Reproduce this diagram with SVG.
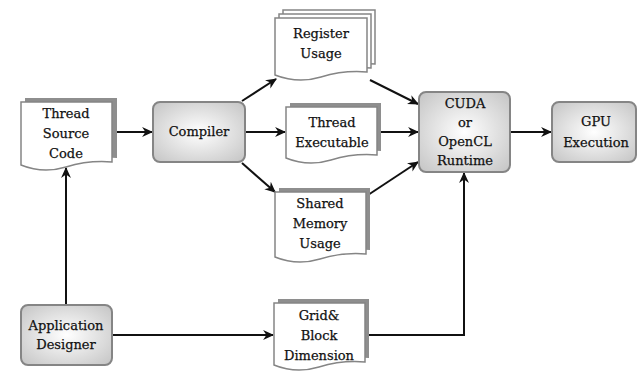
<svg xmlns="http://www.w3.org/2000/svg" width="637" height="371" viewBox="0 0 637 371">
  <defs>
    <radialGradient id="boxFill" cx="50%" cy="50%" r="70%">
      <stop offset="0" stop-color="#ffffff"/>
      <stop offset="1" stop-color="#c4c4c4"/>
    </radialGradient>
    <marker id="arrow" markerUnits="userSpaceOnUse" markerWidth="11" markerHeight="11" viewBox="0 0 10 10" refX="9" refY="5" orient="auto">
      <path d="M0,0.5 L10,5 L0,9.5 L3,5 Z" fill="#111"/>
    </marker>
  </defs>
  <style>
    .box { fill: url(#boxFill); stroke: #858585; stroke-width: 2; }
    .doc { fill: #ffffff; stroke: #858585; stroke-width: 1.5; }
    .shadow { fill: #8e8e8e; stroke: none; }
    .lbl { font-family: "DejaVu Serif", "Liberation Serif", serif; font-size: 13px; fill: #111; stroke: #111; stroke-width: 0.25; text-anchor: middle; }
    .conn { fill: none; stroke: #111; stroke-width: 2; }
    .arr { marker-end: url(#arrow); }
  </style>

  <rect width="637" height="371" fill="#ffffff"/>

  <g id="connectors">
    <path class="conn arr" d="M113,132 H152"/>
    <path class="conn arr" d="M242,101 L276,79"/>
    <path class="conn arr" d="M245,132 H285"/>
    <path class="conn arr" d="M242,163 L275,192"/>
    <path class="conn arr" d="M370,80 L418,104"/>
    <path class="conn arr" d="M379,132 H418"/>
    <path class="conn arr" d="M368,195 L418,162"/>
    <path class="conn arr" d="M510,132 H551"/>
    <path class="conn arr" d="M66,305 V168"/>
    <path class="conn arr" d="M112,335 H273"/>
    <path class="conn arr" d="M366,335 H464 V173"/>
  </g>

  <!-- document shape: flat top, wavy bottom -->
  <g id="thread-source-code">
    <path class="shadow" d="M25,98 H117 V158 Q94,156 71,163 T25,161 Z"/>
    <path class="doc" d="M21,102 H112 V162 Q89,160 66,167 T21,165 Z"/>
    <text class="lbl" x="66" y="118">Thread</text>
    <text class="lbl" x="66" y="138">Source</text>
    <text class="lbl" x="66" y="158">Code</text>
  </g>

  <g id="compiler">
    <rect class="box" x="153" y="102" width="92" height="60" rx="7"/>
    <text class="lbl" x="199" y="136">Compiler</text>
  </g>

  <g id="register-usage">
    <path class="doc" d="M283,10 H375 V64 Q352,62 329,69 T283,67 Z"/>
    <path class="doc" d="M279,14 H371 V68 Q348,66 325,73 T279,71 Z"/>
    <path class="doc" d="M275,18 H367 V72 Q344,70 321,77 T275,75 Z"/>
    <text class="lbl" x="321" y="38">Register</text>
    <text class="lbl" x="321" y="58">Usage</text>
  </g>

  <g id="thread-executable">
    <path class="shadow" d="M290,103 H381 V151 Q358,149 335,156 T290,154 Z"/>
    <path class="doc" d="M286,107 H377 V155 Q354,153 331,160 T286,158 Z"/>
    <text class="lbl" x="332" y="127">Thread</text>
    <text class="lbl" x="332" y="147">Executable</text>
  </g>

  <g id="shared-memory-usage">
    <path class="shadow" d="M279,188 H370 V250 Q347,248 324,255 T279,253 Z"/>
    <path class="doc" d="M275,192 H366 V254 Q343,252 320,259 T275,257 Z"/>
    <text class="lbl" x="320" y="208">Shared</text>
    <text class="lbl" x="320" y="228">Memory</text>
    <text class="lbl" x="320" y="248">Usage</text>
  </g>

  <g id="cuda-opencl-runtime">
    <rect class="box" x="419" y="92" width="91" height="80" rx="7"/>
    <text class="lbl" x="465" y="108">CUDA</text>
    <text class="lbl" x="465" y="127">or</text>
    <text class="lbl" x="465" y="146">OpenCL</text>
    <text class="lbl" x="465" y="165">Runtime</text>
  </g>

  <g id="gpu-execution">
    <rect class="box" x="552" y="102" width="84" height="60" rx="7"/>
    <text class="lbl" x="596" y="126">GPU</text>
    <text class="lbl" x="596" y="147">Execution</text>
  </g>

  <g id="application-designer">
    <rect class="box" x="21" y="305" width="91" height="60" rx="7"/>
    <text class="lbl" x="66" y="330">Application</text>
    <text class="lbl" x="66" y="349">Designer</text>
  </g>

  <g id="grid-block-dimension">
    <path class="shadow" d="M278,299 H369 V358 Q346,356 323,363 T278,361 Z"/>
    <path class="doc" d="M274,303 H365 V362 Q342,360 319,367 T274,365 Z"/>
    <text class="lbl" x="319" y="320">Grid&amp;</text>
    <text class="lbl" x="319" y="340">Block</text>
    <text class="lbl" x="319" y="360">Dimension</text>
  </g>
</svg>
